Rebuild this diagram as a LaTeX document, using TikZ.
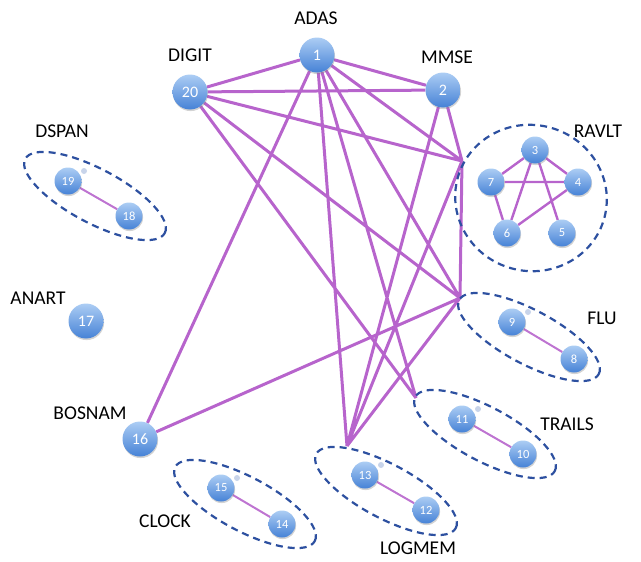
\documentclass[tikz,border=0pt]{standalone}
\usepackage{fontspec}
\setmainfont{Carlito}
\usetikzlibrary{shadows}
\definecolor{edgec}{RGB}{183,100,204}
\definecolor{grpc}{RGB}{45,80,160}
\definecolor{ntop}{RGB}{172,205,244}
\definecolor{nbot}{RGB}{70,130,214}
\definecolor{dotc}{RGB}{200,212,234}
\pgfdeclarelayer{bg}\pgfsetlayers{bg,main}
\begin{document}
\begin{tikzpicture}[x=1pt,y=-1pt,
  big/.style={circle, minimum size=35pt, inner sep=0pt, top color=ntop, bottom color=nbot, text=white,
    font=\fontsize{16}{16}\selectfont,
    drop shadow={shadow xshift=0.6pt,shadow yshift=-1.6pt,opacity=0.35}},
  small/.style={big, minimum size=27pt, font=\fontsize{12.5}{12.5}\selectfont},
  lab/.style={font=\fontsize{19.5}{20}\selectfont, text=black, inner sep=0pt},
  edge/.style={draw=edgec, line width=3pt},
  inedge/.style={draw=edgec, line width=2.4pt},
  pairedge/.style={draw=edgec!90, line width=2pt},
  grp/.style={draw=grpc, line width=2.2pt, dash pattern=on 7pt off 5pt},
  gloss/.style={circle, fill=dotc, minimum size=6pt, inner sep=0pt}
]
\useasboundingbox (0,0) rectangle (641,562);

% group outlines
\draw[grp, rotate around={-28:(95,196)}] (95,196) ellipse [x radius=79pt, y radius=27pt];
\draw[grp, rotate around={-28:(529,337)}] (529,337) ellipse [x radius=79pt, y radius=27pt];
\draw[grp, rotate around={-28:(485,434)}] (485,434) ellipse [x radius=79pt, y radius=27pt];
\draw[grp, rotate around={-28:(386,491)}] (386,491) ellipse [x radius=79pt, y radius=27pt];
\draw[grp, rotate around={-28:(245,504)}] (245,504) ellipse [x radius=79pt, y radius=27pt];
\draw[grp, rotate around={-15:(531,198)}] (531,198) ellipse [x radius=76pt, y radius=73pt];

% junction points on group outlines
\coordinate (R) at (462,161);
\coordinate (F) at (460,298);
\coordinate (T) at (416,398);
\coordinate (L) at (347,446);

% main nodes
\node[big] (n1) at (317,55) {1};
\node[big] (n20) at (190,92) {20};
\node[big] (n2) at (443,90) {2};
\node[big] (n16) at (140,439) {16};
\node[big] (n17) at (86,321) {17};

% RAVLT
\node[small] (n3) at (535,150) {3};
\node[small] (n4) at (578,182) {4};
\node[small] (n5) at (562,233) {5};
\node[small] (n6) at (507,233) {6};
\node[small] (n7) at (491,182) {7};

% pairs
\node[small] (n19) at (68,181) {19};
\node[small] (n18) at (129,216) {18};
\node[small] (n9) at (512,322) {9};
\node[small] (n8) at (574,359) {8};
\node[small] (n11) at (462,419) {11};
\node[small] (n10) at (523,454) {10};
\node[small] (n13) at (365,475) {13};
\node[small] (n12) at (426,510) {12};
\node[small] (n15) at (221,488) {15};
\node[small] (n14) at (282,524) {14};

% gloss dots
\node[gloss] (g19) at (84,171) {};
\node[gloss] (g9) at (528,312) {};
\node[gloss] (g11) at (478,409) {};
\node[gloss] (g13) at (381,465) {};
\node[gloss] (g15) at (237,478) {};

% labels
\node[lab] (lADAS) at (316,18) {ADAS};
\node[lab] (lDIGIT) at (190,55) {DIGIT};
\node[lab] (lMMSE) at (447,57) {MMSE};
\node[lab] (lDSPAN) at (62,131) {DSPAN};
\node[lab] (lRAVLT) at (598,131) {RAVLT};
\node[lab] (lANART) at (38,298) {ANART};
\node[lab] (lBOSNAM) at (90,413) {BOSNAM};
\node[lab] (lFLU) at (602,318) {FLU};
\node[lab] (lTRAILS) at (567,424) {TRAILS};
\node[lab] (lCLOCK) at (165,521) {CLOCK};
\node[lab] (lLOGMEM) at (418,548) {LOGMEM};

\begin{pgfonlayer}{bg}
\path[edge] (n1)--(n20) (n1)--(n2) (n20)--(n2)
  (n1)--(n16) (n1)--(R) (n1)--(L) (n1)--(T) (n1)--(F)
  (n20)--(R) (n20)--(F) (n20)--(T)
  (n2)--(R) (n2)--(L)
  (R)--(F) (R)--(L) (F)--(L) (n16)--(F);
\path[inedge] (n3)--(n7) (n3)--(n4) (n7)--(n4) (n3)--(n6) (n3)--(n5) (n7)--(n6) (n6)--(n4);
\path[pairedge] (n19)--(n18) (n9)--(n8) (n11)--(n10) (n13)--(n12) (n15)--(n14);
\end{pgfonlayer}
\end{tikzpicture}
\end{document}
